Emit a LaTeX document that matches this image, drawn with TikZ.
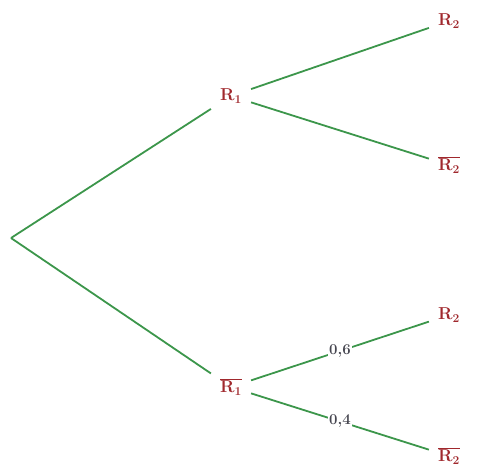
\documentclass[tikz,border=0pt]{standalone}
\usepackage{tikz}
\definecolor{evred}{RGB}{160,40,45}
\definecolor{evgreen}{RGB}{60,150,75}
\definecolor{prgray}{RGB}{70,70,80}
\begin{document}
\begin{tikzpicture}[x=1pt,y=-1pt,
  ev/.style={text=evred,font=\fontsize{17}{20}\selectfont\bfseries,inner sep=9pt},
  br/.style={draw=evgreen,line width=1.8pt},
  pr/.style={fill=white,inner sep=1pt,font=\fontsize{15}{17}\selectfont\bfseries,text=prgray}]
\useasboundingbox (0,0) rectangle (478,470);
\node[inner sep=1pt] (o) at (11,238) {};
\node[ev] (r1) at (231,96) {$\mathbf{R_1}$};
\node[ev] (r1b) at (231,387) {$\overline{\mathbf{R_1}}$};
\node[ev] (a) at (449,21) {$\mathbf{R_2}$};
\node[ev] (b) at (449,165) {$\overline{\mathbf{R_2}}$};
\node[ev] (c) at (449,315) {$\mathbf{R_2}$};
\node[ev] (d) at (449,456) {$\overline{\mathbf{R_2}}$};
\draw[br] (o.center) -- (r1);
\draw[br] (o.center) -- (r1b);
\draw[br] (r1) -- (a);
\draw[br] (r1) -- (b);
\draw[br] (r1b) -- node[pr] (p6) {0,6} (c);
\draw[br] (r1b) -- node[pr] (p4) {0,4} (d);
\end{tikzpicture}
\end{document}
